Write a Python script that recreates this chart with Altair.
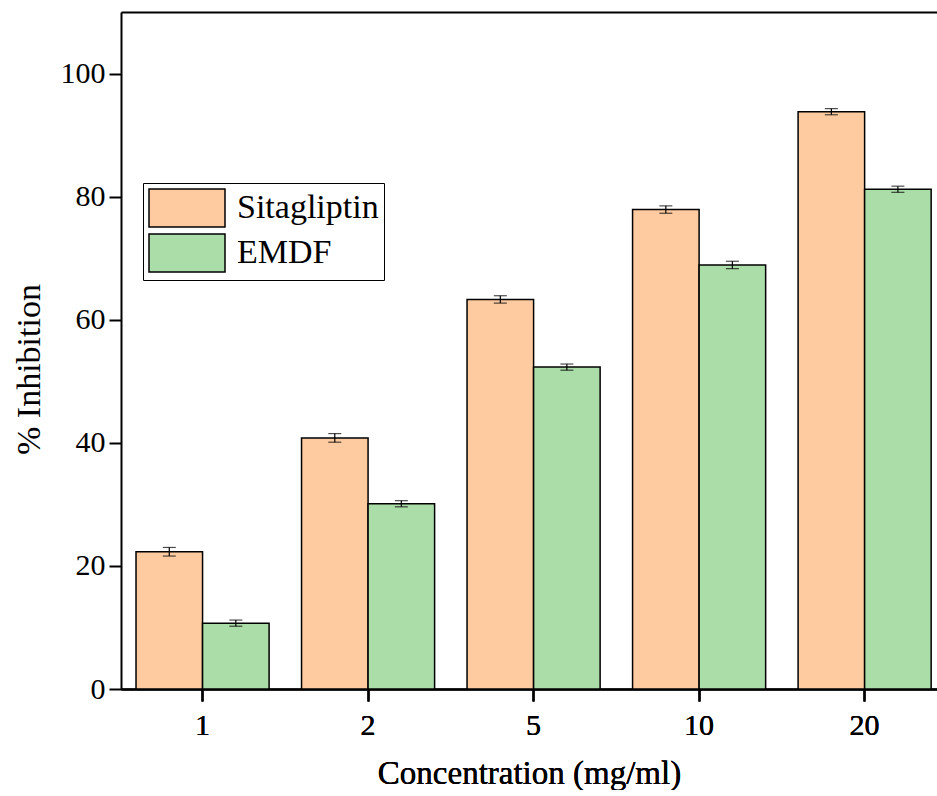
import altair as alt
import pandas as pd

concentrations = ["1", "2", "5", "10", "20"]
series_names = ["Sitagliptin", "EMDF"]
sitagliptin = [22.3, 40.8, 63.3, 77.9, 93.8]
sitagliptin_err = [0.7, 0.7, 0.6, 0.6, 0.5]
emdf = [10.7, 30.1, 52.3, 68.9, 81.2]
emdf_err = [0.5, 0.5, 0.5, 0.6, 0.5]
colors = ["#FECBA1", "#ABDDA9"]

rows = []
for c, v, e in zip(concentrations, sitagliptin, sitagliptin_err):
    rows.append({"conc": c, "series": "Sitagliptin", "value": v, "err": e})
for c, v, e in zip(concentrations, emdf, emdf_err):
    rows.append({"conc": c, "series": "EMDF", "value": v, "err": e})
df = pd.DataFrame(rows)

FONT = "Liberation Serif"

xscale = alt.Scale(domain=concentrations, paddingInner=0.196, paddingOuter=0.063, align=0.72)
xoff = alt.XOffset("series:N", sort=series_names,
                   scale=alt.Scale(domain=series_names, paddingInner=0, paddingOuter=0))
yscale = alt.Scale(domain=[0, 110], nice=False)

x_axis = alt.Axis(title="Concentration (mg/ml)", labelAngle=0, orient="bottom",
                  domainColor="black", domainWidth=2, tickColor="black",
                  tickWidth=2, tickSize=12, labelFont=FONT, labelFontSize=30,
                  labelColor="black", labelPadding=9, titleFont=FONT,
                  titleFontSize=33, titleFontWeight="normal", titleColor="black",
                  titlePadding=17, grid=False)
x_top = alt.Axis(orient="top", labels=False, ticks=False, title=None,
                 domainColor="black", domainWidth=2, grid=False)
y_axis = alt.Axis(title="% Inhibition", values=[0, 20, 40, 60, 80, 100],
                  domainColor="black", domainWidth=2, tickColor="black",
                  tickWidth=2, tickSize=12, labelFont=FONT, labelFontSize=30,
                  labelColor="black", labelPadding=4, titleFont=FONT,
                  titleFontSize=34, titleFontWeight="normal", titleColor="black",
                  titlePadding=14, titleY=357, grid=False)

base = alt.Chart(df).transform_calculate(
    lo="datum.value - datum.err", hi="datum.value + datum.err"
)

bars = base.mark_bar(stroke="black", strokeWidth=1.5, opacity=1).encode(
    x=alt.X("conc:N", sort=concentrations, scale=xscale, axis=x_axis),
    xOffset=xoff,
    y=alt.Y("value:Q", scale=yscale, axis=y_axis),
    color=alt.Color("series:N", sort=series_names,
                    scale=alt.Scale(domain=series_names, range=colors),
                    legend=alt.Legend(orient="none", legendX=22, legendY=171, title=None,
                                      symbolType="M-2,-1H2V1H-2Z", symbolSize=1444,
                                      symbolStrokeColor="black", symbolStrokeWidth=1.5,
                                      symbolOpacity=1, symbolOffset=19,
                                      labelFont=FONT, labelFontSize=34, labelColor="black",
                                      labelOffset=30, labelLimit=400, rowPadding=1,
                                      strokeColor="black", fillColor="white", padding=5)),
)

rules = base.mark_rule(color="black", strokeWidth=1.2).encode(
    x=alt.X("conc:N", sort=concentrations, scale=xscale, axis=x_top),
    xOffset=xoff,
    y=alt.Y("lo:Q", scale=yscale, axis=y_axis),
    y2="hi:Q",
)

caps_lo = base.mark_tick(color="black", thickness=1.2, size=13).encode(
    x=alt.X("conc:N", sort=concentrations, scale=xscale, axis=x_axis),
    xOffset=xoff,
    y=alt.Y("lo:Q", scale=yscale, axis=y_axis),
)
caps_hi = base.mark_tick(color="black", thickness=1.2, size=13).encode(
    x=alt.X("conc:N", sort=concentrations, scale=xscale, axis=x_axis),
    xOffset=xoff,
    y=alt.Y("hi:Q", scale=yscale, axis=y_axis),
)

chart = alt.layer(bars, rules, caps_lo, caps_hi).properties(
    width=816, height=677,
    padding={"left": 12, "top": 12, "right": 0, "bottom": 0},
).configure_view(stroke=None).configure_axis(
    labelFont=FONT, titleFont=FONT, labelColor="black", titleColor="black",
    titleFontWeight="normal"
).configure(background="white")

chart.save("out.html", embed_options={"renderer": "svg", "actions": False})
